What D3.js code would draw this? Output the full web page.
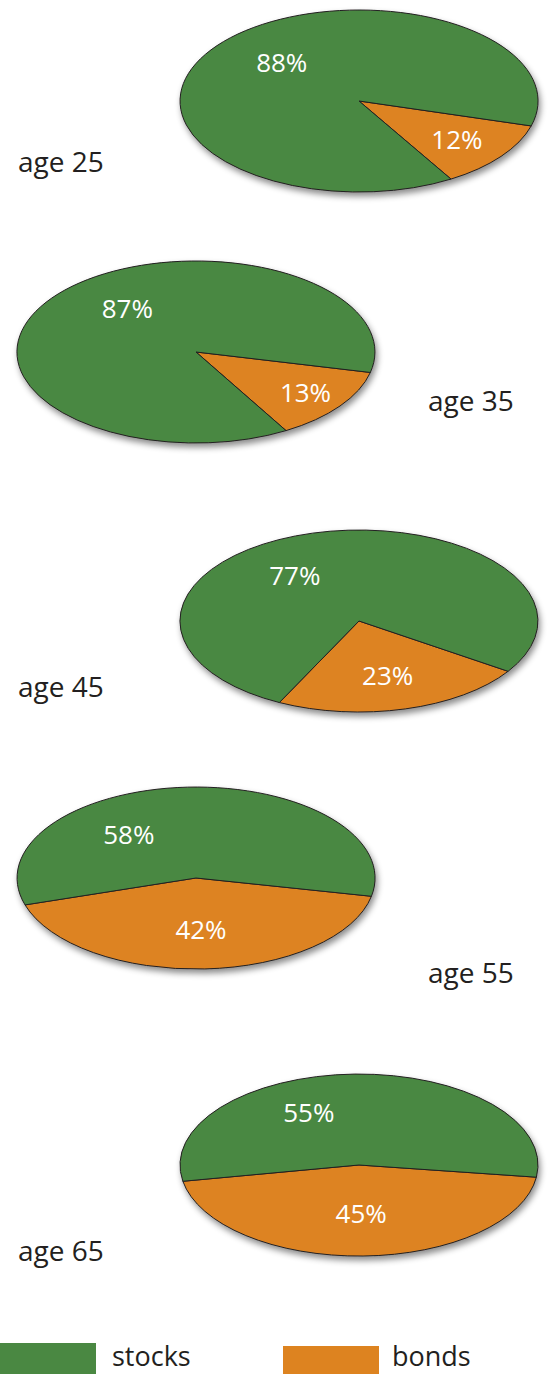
<!DOCTYPE html>
<html>
<head>
<meta charset="utf-8">
<script src="https://cdn.jsdelivr.net/npm/d3@7"></script>
<style>
  html, body { margin: 0; padding: 0; background: #fff; }
  svg { display: block; }
  text { font-family: "Open Sans", "Noto Sans", sans-serif; }
</style>
</head>
<body>
<svg id="chart" width="552" height="1374"></svg>
<script>
// ---- data ----
const ages = ["age 25", "age 35", "age 45", "age 55", "age 65"];
const stocks = [88, 87, 77, 58, 55];
const bonds = [12, 13, 23, 42, 45];
const seriesNames = ["stocks", "bonds"];

// ---- layout / style ----
const colors = { stocks: "#4a8842", bonds: "#dd8320" };
const rx = 179, ry = 91;
const pieCenters = [[359, 101], [196, 352], [359, 621], [196, 878], [359, 1165]];
const bondMidAngle = [37.5, 36.4, 75, 87.2, 88.7];        // screen degrees, clockwise from 3 o'clock
const bondLabelR = [0.69, 0.76, 0.62, 0.57, 0.53];
const stockLabelAngle = [224, 231, 234, 232, 244];
const stockLabelR = [0.6, 0.61, 0.61, 0.61, 0.64];
const agePos = [[18, 172], [428, 411], [18, 697], [428, 983], [18, 1261]];

const svg = d3.select("#chart");
const defs = svg.append("defs");
const f = defs.append("filter").attr("id", "shadow")
  .attr("x", "-10%").attr("y", "-10%").attr("width", "120%").attr("height", "130%");
f.append("feDropShadow").attr("dx", 2).attr("dy", 4).attr("stdDeviation", 3)
  .attr("flood-color", "#000").attr("flood-opacity", 0.45);

const arc = d3.arc().innerRadius(0).outerRadius(1);
const rad = Math.PI / 180;

ages.forEach((age, i) => {
  const vals = [
    { key: "bonds", value: bonds[i] },
    { key: "stocks", value: stocks[i] }
  ];
  const span = 2 * Math.PI * bonds[i] / 100;
  const start = (bondMidAngle[i] + 90) * rad - span / 2;
  const pie = d3.pie().sort(null).value(d => d.value)
    .startAngle(start).endAngle(start + 2 * Math.PI);
  const arcs = pie(vals);

  const [cx, cy] = pieCenters[i];
  const outer = svg.append("g").attr("filter", "url(#shadow)");
  const g = outer.append("g").attr("transform", `translate(${cx},${cy}) scale(${rx},${ry})`);
  g.selectAll("path").data(arcs).join("path")
    .attr("d", arc)
    .attr("fill", d => colors[d.data.key])
    .attr("stroke", "#231f20")
    .attr("stroke-width", 1)
    .attr("vector-effect", "non-scaling-stroke");

  // labels
  const lg = svg.append("g").attr("transform", `translate(${cx},${cy})`);
  arcs.forEach(d => {
    let ang, r;
    if (d.data.key === "bonds") {
      ang = (d.startAngle + d.endAngle) / 2 - Math.PI / 2;
      r = bondLabelR[i];
    } else {
      ang = stockLabelAngle[i] * rad;
      r = stockLabelR[i];
    }
    lg.append("text")
      .attr("x", Math.cos(ang) * r * rx)
      .attr("y", Math.sin(ang) * r * ry)
      .attr("dy", "0.36em")
      .attr("text-anchor", "middle")
      .attr("fill", "#fff")
      .attr("font-size", 26)
      .text(d.data.value + "%");
  });

  svg.append("text")
    .attr("x", agePos[i][0]).attr("y", agePos[i][1])
    .attr("fill", "#231f20")
    .attr("font-size", 28)
    .text(age);
});

// legend
const legendX = [0, 283];
const legendRectY = [1343, 1346];
const legendTextX = [112, 392];
const legendTextY = [1366, 1366];
seriesNames.forEach((s, i) => {
  svg.append("rect")
    .attr("x", legendX[i]).attr("y", legendRectY[i])
    .attr("width", 96).attr("height", 1374 - legendRectY[i])
    .attr("fill", colors[s]);
  svg.append("text")
    .attr("x", legendTextX[i]).attr("y", legendTextY[i])
    .attr("fill", "#231f20")
    .attr("font-size", 27)
    .text(s);
});
</script>
</body>
</html>
